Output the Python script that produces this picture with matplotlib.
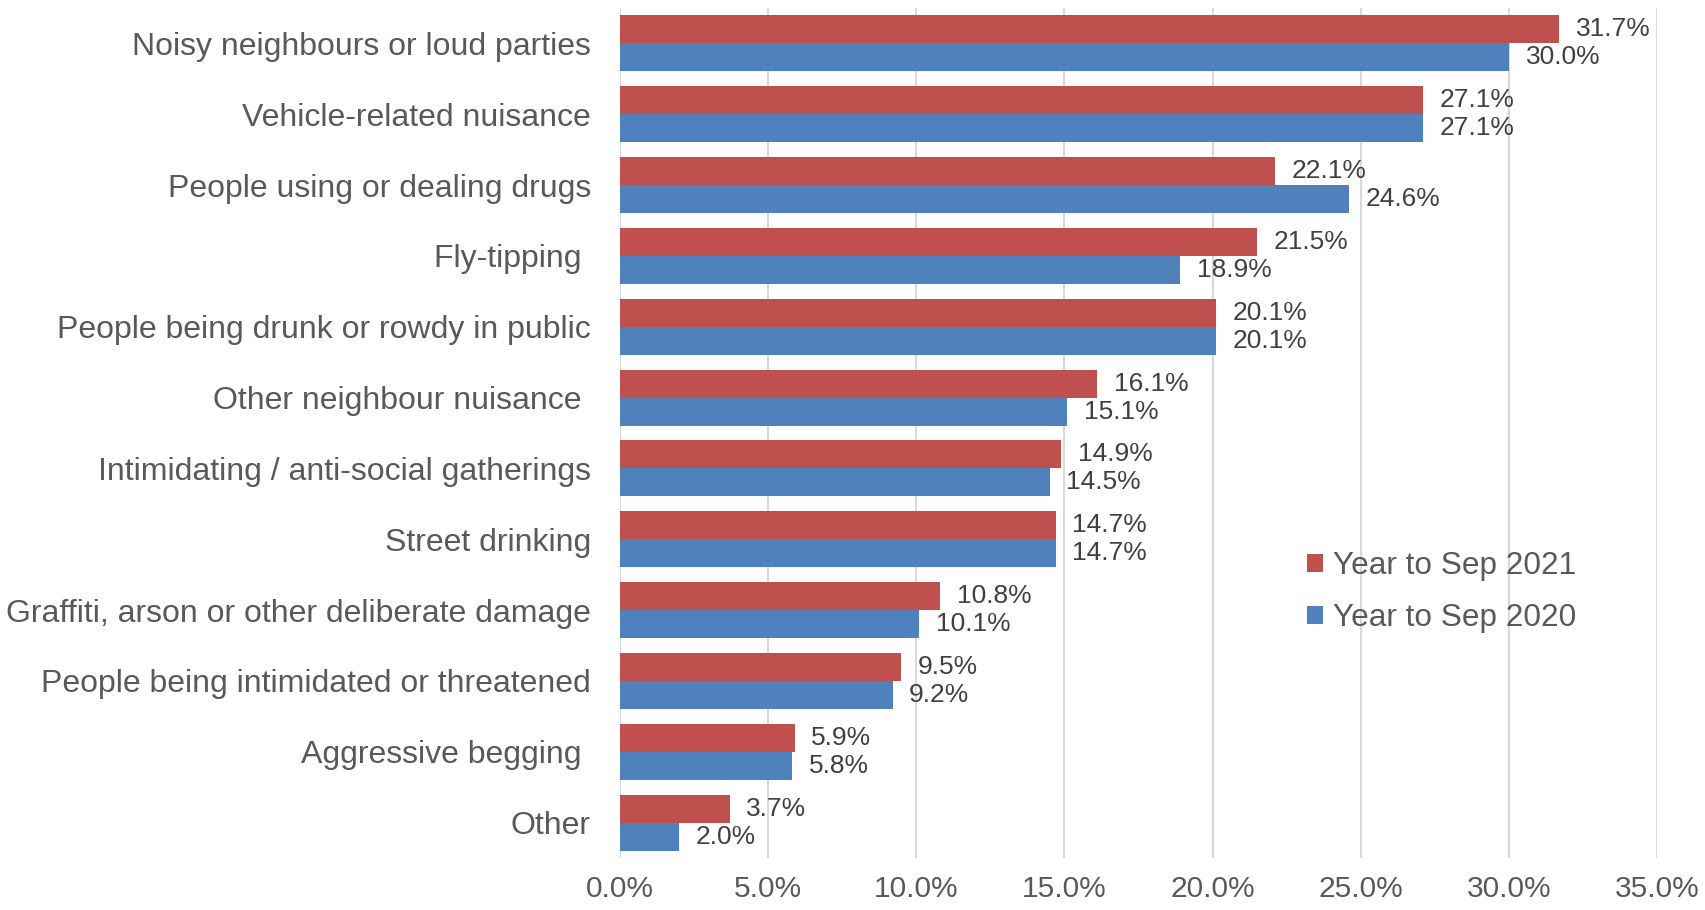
import matplotlib
matplotlib.use("Agg")
import matplotlib.pyplot as plt
import numpy as np

plt.rcParams['font.family'] = ['Liberation Sans', 'DejaVu Sans']

categories = [
    "Noisy neighbours or loud parties",
    "Vehicle-related nuisance",
    "People using or dealing drugs",
    "Fly-tipping ",
    "People being drunk or rowdy in public",
    "Other neighbour nuisance ",
    "Intimidating / anti-social gatherings",
    "Street drinking",
    "Graffiti, arson or other deliberate damage",
    "People being intimidated or threatened",
    "Aggressive begging ",
    "Other",
]
sep_2021 = [31.7, 27.1, 22.1, 21.5, 20.1, 16.1, 14.9, 14.7, 10.8, 9.5, 5.9, 3.7]
sep_2020 = [30.0, 27.1, 24.6, 18.9, 20.1, 15.1, 14.5, 14.7, 10.1, 9.2, 5.8, 2.0]
ticks = [0, 5, 10, 15, 20, 25, 30, 35]

red = "#C0504D"
blue = "#4F81BD"
grey_txt = "#595959"

fig = plt.figure(figsize=(17.05, 9.1), dpi=100)
ax = fig.add_axes([0.3636, 0.0571, 0.6083, 0.9341])

y = np.arange(len(categories))
h = 0.395
b1 = ax.barh(y - h / 2, sep_2021, height=h, color=red, label="Year to Sep 2021")
b2 = ax.barh(y + h / 2, sep_2020, height=h, color=blue, label="Year to Sep 2020")

ax.bar_label(b1, fmt="%.1f%%", padding=12, fontsize=19, color="#404040")
ax.bar_label(b2, fmt="%.1f%%", padding=12, fontsize=19, color="#404040")

ax.set_xlim(0, 35)
ax.set_ylim(len(categories) - 0.5, -0.5)
ax.set_xticks(ticks)
ax.set_xticklabels([f"{t:.1f}%" for t in ticks])
ax.set_yticks(y)
ax.set_yticklabels(categories)
ax.tick_params(axis="x", length=0, pad=12, labelsize=21.5, labelcolor=grey_txt)
ax.tick_params(axis="y", length=0, pad=21, labelsize=23, labelcolor=grey_txt)

ax.grid(axis="x", color="#D9D9D9", linewidth=1.5)
ax.set_axisbelow(True)
for s in ax.spines.values():
    s.set_visible(False)

leg = ax.legend(loc="center left", bbox_to_anchor=(0.7666, 0.349),
                bbox_transform=fig.transFigure, frameon=False,
                fontsize=22.7, labelcolor=grey_txt, handlelength=0.5, handleheight=0.5,
                handletextpad=0.32, labelspacing=0.7, borderpad=0, borderaxespad=0)

fig.savefig("out.png", dpi=100)
